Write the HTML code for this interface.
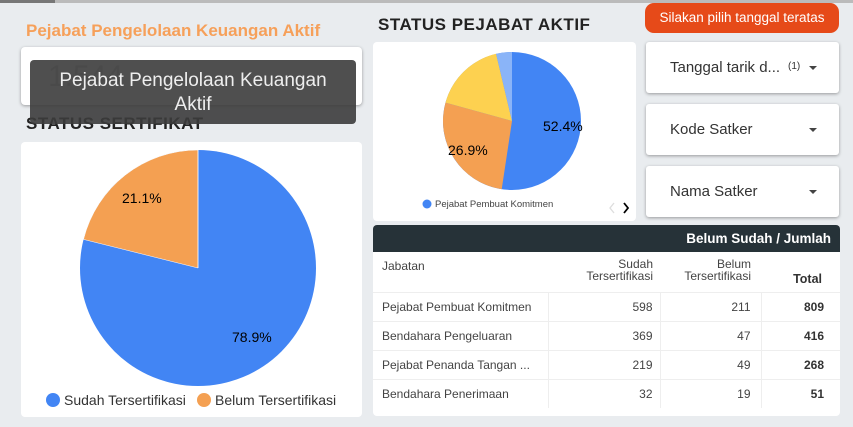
<!DOCTYPE html>
<html><head><style>
body{margin:0;width:853px;height:427px;background:#e9ecef;font-family:"Liberation Sans",sans-serif;position:relative;overflow:hidden}
.card{position:absolute;background:#fff;border-radius:4px}
.sh{box-shadow:0 1px 3px rgba(0,0,0,.35)}
.abs{position:absolute}
.dd{position:absolute;left:646px;width:193px;height:51px;background:#fff;border-radius:3px;box-shadow:0 1px 3px rgba(0,0,0,.35);font-size:15px;color:#333}
.dd span{position:absolute;left:24px;top:17px}
.dd i{position:absolute;right:22px;top:24px;border-left:4px solid transparent;border-right:4px solid transparent;border-top:4px solid #444}
table{border-collapse:collapse;font-size:12px;color:#444}
td{padding:0}
</style></head><body>
<div class="abs" style="left:0;top:0;width:853px;height:3px;background:#bbb"></div>
<div class="abs" style="left:0;top:0;width:55px;height:3px;background:#777"></div>
<div class="abs" style="left:26px;top:21px;font-size:17px;font-weight:bold;color:#f6a05a">Pejabat Pengelolaan Keuangan Aktif</div>
<div class="card sh" style="left:21px;top:47px;width:341px;height:58px"></div>
<div class="abs" style="left:48px;top:60px;font-size:30px;color:#ccc">1.544</div>
<div class="abs" style="left:26px;top:114px;font-size:17px;font-weight:bold;color:#222;letter-spacing:.5px">STATUS SERTIFIKAT</div>
<div class="abs" style="left:30px;top:60px;width:326px;height:64px;background:rgba(60,60,60,.9);border-radius:4px;color:#eee;font-size:19px;text-align:center;line-height:24px;padding-top:9px;box-sizing:border-box">Pejabat Pengelolaan Keuangan<br>Aktif</div>
<div class="card" style="left:21px;top:142px;width:341px;height:275px"></div>
<svg class="abs" style="left:0;top:0" width="853" height="427">
<circle cx="198" cy="268" r="118" fill="#4285f4"/>
<path d="M198 268 L83.5 239.4 A118 118 0 0 1 198 150 Z" fill="#f4a052" stroke="#fff" stroke-width=".5"/>
<line x1="198" y1="268" x2="198" y2="150" stroke="#fff" stroke-width=".7"/>
<text x="122" y="203" font-size="14" font-family="Liberation Sans">21.1%</text>
<text x="232" y="342" font-size="14" font-family="Liberation Sans">78.9%</text>
<circle cx="53" cy="400" r="7" fill="#4285f4"/>
<text x="64" y="405" font-size="14" fill="#333" font-family="Liberation Sans">Sudah Tersertifikasi</text>
<circle cx="204" cy="400" r="7" fill="#f4a052"/>
<text x="215" y="405" font-size="14" fill="#333" font-family="Liberation Sans">Belum Tersertifikasi</text>
</svg>
<div class="abs" style="left:378px;top:15px;font-size:17px;font-weight:bold;color:#222;letter-spacing:.5px">STATUS PEJABAT AKTIF</div>
<div class="card" style="left:373px;top:42px;width:263px;height:179px"></div>
<svg class="abs" style="left:0;top:0" width="853" height="427">
<circle cx="512" cy="121" r="69" fill="#4285f4"/>
<path d="M512 121 L501.7 189.2 A69 69 0 0 1 445.5 102.6 Z" fill="#f4a052"/>
<path d="M512 121 L445.5 102.6 A69 69 0 0 1 496.1 53.8 Z" fill="#fdd150"/>
<path d="M512 121 L496.1 53.8 A69 69 0 0 1 512 52 Z" fill="#8ab4f8"/>
<text x="543" y="131" font-size="14" font-family="Liberation Sans">52.4%</text>
<text x="448" y="155" font-size="14" font-family="Liberation Sans">26.9%</text>
<circle cx="427" cy="204" r="4.5" fill="#4285f4"/>
<text x="435" y="207" font-size="9.5" fill="#444" font-family="Liberation Sans">Pejabat Pembuat Komitmen</text>
<path d="M614 203 L610 208 L614 213" stroke="#ddd" fill="none" stroke-width="1.3"/>
<path d="M624 203 L628 208 L624 213" stroke="#000" fill="none" stroke-width="1.8"/>
</svg>
<div class="abs" style="left:645px;top:3px;width:194px;height:30px;background:#e64a19;border-radius:9px;color:#fff;font-size:13.5px;text-align:center;line-height:30px">Silakan pilih tanggal teratas</div>
<div class="dd" style="top:42px"><span>Tanggal tarik d...</span><span style="left:142px;top:19px;font-size:10px">(1)</span><i></i></div>
<div class="dd" style="top:104px"><span>Kode Satker</span><i></i></div>
<div class="dd" style="top:166px"><span>Nama Satker</span><i></i></div>
<div class="card" style="left:373px;top:225px;width:467px;height:191px;overflow:hidden">
<div style="height:27px;background:#263238;color:#fff;font-weight:bold;font-size:13.5px;text-align:right;line-height:27px;padding-right:9px">Belum Sudah / Jumlah</div>
<table style="width:467px;table-layout:fixed">
<colgroup><col style="width:175px"><col style="width:112px"><col style="width:101px"><col></colgroup>
<tr style="height:40px;vertical-align:top"><td style="padding:7px 0 0 9px">Jabatan</td><td style="text-align:right;padding:6px 7px 0 0;line-height:12px">Sudah<br>Tersertifikasi</td><td style="text-align:right;padding:6px 10px 0 0;line-height:12px">Belum<br>Tersertifikasi</td><td style="text-align:right;padding:20px 18px 0 0;font-weight:bold;font-size:12.5px;color:#333">Total</td></tr>
<tr style="height:29px;border-top:1px solid #eee"><td style="padding-left:9px">Pejabat Pembuat Komitmen</td><td style="text-align:right;padding-right:7px;border-left:1px solid #eee">598</td><td style="text-align:right;padding-right:10px;border-left:1px solid #eee">211</td><td style="text-align:right;padding-right:16px;font-weight:bold;color:#333;border-left:1px solid #eee">809</td></tr>
<tr style="height:29px;border-top:1px solid #eee"><td style="padding-left:9px">Bendahara Pengeluaran</td><td style="text-align:right;padding-right:7px;border-left:1px solid #eee">369</td><td style="text-align:right;padding-right:10px;border-left:1px solid #eee">47</td><td style="text-align:right;padding-right:16px;font-weight:bold;color:#333;border-left:1px solid #eee">416</td></tr>
<tr style="height:29px;border-top:1px solid #eee"><td style="padding-left:9px">Pejabat Penanda Tangan ...</td><td style="text-align:right;padding-right:7px;border-left:1px solid #eee">219</td><td style="text-align:right;padding-right:10px;border-left:1px solid #eee">49</td><td style="text-align:right;padding-right:16px;font-weight:bold;color:#333;border-left:1px solid #eee">268</td></tr>
<tr style="height:29px;border-top:1px solid #eee"><td style="padding-left:9px">Bendahara Penerimaan</td><td style="text-align:right;padding-right:7px;border-left:1px solid #eee">32</td><td style="text-align:right;padding-right:10px;border-left:1px solid #eee">19</td><td style="text-align:right;padding-right:16px;font-weight:bold;color:#333;border-left:1px solid #eee">51</td></tr>
</table>
</div>
</body></html>
